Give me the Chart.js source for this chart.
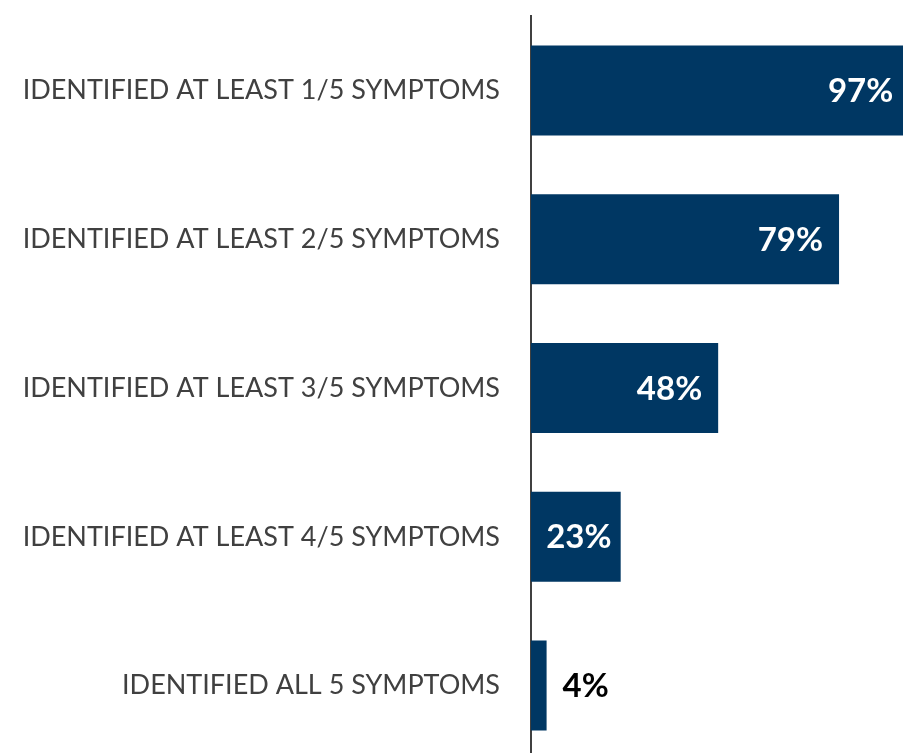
<!DOCTYPE html>
<html>
<head>
<meta charset="utf-8">
<script src="https://cdn.jsdelivr.net/npm/chart.js@4"></script>
<style>
  html, body { margin: 0; padding: 0; background: #fff; overflow: hidden; }
  #wrap { position: relative; width: 903px; height: 760px; }
</style>
</head>
<body>
<div id="wrap"><canvas id="myChart"></canvas></div>
<script>
const categories = [
  'IDENTIFIED AT LEAST 1/5 SYMPTOMS',
  'IDENTIFIED AT LEAST 2/5 SYMPTOMS',
  'IDENTIFIED AT LEAST 3/5 SYMPTOMS',
  'IDENTIFIED AT LEAST 4/5 SYMPTOMS',
  'IDENTIFIED ALL 5 SYMPTOMS'
];
const shares = [97, 79, 48, 23, 4];

const barColor = '#003763';
const labelFont = 'bold 33px Lato';

// percent labels: inside the bar end in white, outside in black when the bar is too short
const valueLabels = {
  id: 'valueLabels',
  afterDatasetsDraw(chart) {
    const ctx = chart.ctx;
    const meta = chart.getDatasetMeta(0);
    ctx.save();
    ctx.font = labelFont;
    ctx.textBaseline = 'middle';
    meta.data.forEach((bar, i) => {
      const text = shares[i] + '%';
      const w = ctx.measureText(text).width;
      const len = bar.x - bar.base;
      if (len > w + 50) {
        ctx.fillStyle = '#fff';
        ctx.textAlign = 'right';
        ctx.fillText(text, bar.x - 16, bar.y + 1);
      } else if (len > w + 10) {
        ctx.fillStyle = '#fff';
        ctx.textAlign = 'center';
        ctx.fillText(text, (bar.x + bar.base) / 2 + 3, bar.y + 1);
      } else {
        ctx.fillStyle = '#000';
        ctx.textAlign = 'left';
        ctx.fillText(text, bar.x + 16, bar.y + 1);
      }
    });
    ctx.restore();
  }
};

const ctx = document.getElementById('myChart').getContext('2d');
new Chart(ctx, {
  type: 'bar',
  data: {
    labels: categories,
    datasets: [{
      data: shares,
      backgroundColor: barColor,
      borderWidth: 0,
      categoryPercentage: 1,
      barPercentage: 0.605
    }]
  },
  options: {
    indexAxis: 'y',
    responsive: true,
    maintainAspectRatio: false,
    animation: false,
    layout: { padding: { top: 16, right: 0, bottom: 0, left: 0 } },
    plugins: {
      legend: { display: false },
      tooltip: { enabled: false }
    },
    scales: {
      x: {
        display: false,
        min: 0,
        max: 95.4
      },
      y: {
        afterFit(scale) {
          scale.width = 531;
          // tick padding is meant horizontally only
          scale.paddingTop = 0;
          scale.paddingBottom = 0;
        },
        grid: { display: true, drawOnChartArea: false, drawTicks: false },
        border: { display: true, color: '#404040', width: 2 },
        ticks: {
          color: '#404040',
          padding: 31,
          font: { family: 'Lato', size: 27 }
        }
      }
    }
  },
  plugins: [valueLabels]
});
</script>
</body>
</html>
